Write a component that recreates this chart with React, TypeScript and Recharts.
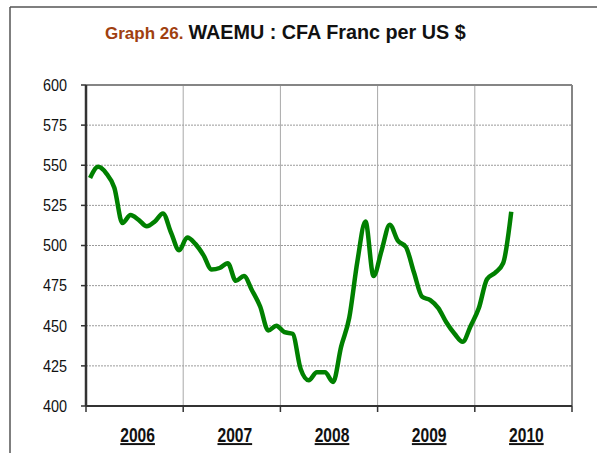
import React from 'react';
import {
  LineChart,
  Line,
  XAxis,
  YAxis,
  CartesianGrid,
  ReferenceLine,
} from 'recharts';

// monthly averages, Jan 2006 .. May 2010
const years = ['2006', '2007', '2008', '2009', '2010'];
const cfaPerUsd = [
  542, 549, 545, 536, 514, 519, 516, 512, 515, 520, 508, 497,
  505, 501, 494, 485, 486, 489, 478, 481, 472, 462, 447, 450,
  446, 445, 423, 416, 421, 421, 415, 437, 455, 490, 515, 481,
  497, 513, 503, 499, 483, 468, 466, 461, 452, 445, 440, 450,
  461, 479, 483, 489, 521,
];
const yTicks = [400, 425, 450, 475, 500, 525, 550, 575, 600];
const yearBounds = [0, 12, 24, 36, 48, 60];

const W = 597;
const H = 453;
const MARGIN = { top: 85, right: 25, bottom: 7, left: 0 };
const Y_AXIS_W = 86;
const PLOT_W = W - MARGIN.left - MARGIN.right - Y_AXIS_W;
const FONT = '"Liberation Sans", Arial, sans-serif';

const data = cfaPerUsd.map((rate, i) => ({ t: i + 0.5, rate }));

const YearTick = ({ x, y, index }: any) => {
  if (index >= years.length) return <g />;
  const cx = x + PLOT_W / years.length / 2 + 3;
  return (
    <g transform={`translate(${cx},${y + 28}) scale(0.8,1)`}>
      <text
        x={0}
        y={0}
        textAnchor="middle"
        fontFamily={FONT}
        fontSize={19.5}
        fontWeight="bold"
        fill="#111"
        textDecoration="underline"
      >
        {years[index]}
      </text>
    </g>
  );
};

const ValueTick = ({ x, y, payload }: any) => (
  <g transform={`translate(${x},${y}) scale(0.9,1)`}>
    <text x={0} y={0} dy="0.36em" textAnchor="end" fontFamily={FONT} fontSize={16} fill="#111">
      {payload.value}
    </text>
  </g>
);

const App: React.FC = () => {
  return (
    <div style={{ position: 'absolute', left: 0, top: 0, width: W, height: H, background: '#fff' }}>
      <LineChart width={W} height={H} data={data} margin={MARGIN}>
        <CartesianGrid vertical={false} stroke="#9a9a9a" strokeDasharray="2 1" />
        <CartesianGrid horizontal={false} stroke="#a8a8a8" />
        <ReferenceLine y={600} stroke="#858585" strokeWidth={2} />
        <ReferenceLine x={60} stroke="#858585" strokeWidth={2} />
        <XAxis
          dataKey="t"
          type="number"
          domain={[0, 60]}
          ticks={yearBounds}
          interval={0}
          height={40}
          tickSize={6}
          tickLine={{ stroke: '#333', strokeWidth: 1.5 }}
          axisLine={{ stroke: '#333', strokeWidth: 2 }}
          tick={<YearTick />}
        />
        <YAxis
          type="number"
          domain={[400, 600]}
          ticks={yTicks}
          interval={0}
          width={Y_AXIS_W}
          tickSize={5}
          tickMargin={14}
          tickLine={{ stroke: '#333', strokeWidth: 1.5 }}
          axisLine={{ stroke: '#333', strokeWidth: 2.5 }}
          tick={<ValueTick />}
        />
        <Line
          type="monotone"
          dataKey="rate"
          stroke="#008000"
          strokeWidth={4.5}
          dot={false}
          isAnimationActive={false}
        />
      </LineChart>
      <svg
        width={W}
        height={H}
        style={{ position: 'absolute', left: 0, top: 0, pointerEvents: 'none' }}
      >
        <line x1={10} y1={7} x2={W} y2={7} stroke="#555" strokeWidth={1.5} />
        <line x1={10} y1={7} x2={10} y2={H} stroke="#555" strokeWidth={1.5} />
        <text x={105} y={39} fontFamily={FONT} fontWeight="bold">
          <tspan fill="#a0400f" fontSize={17}>Graph 26.</tspan>
          <tspan fill="#111" fontSize={19.8} dx={5}>WAEMU : CFA Franc per US $</tspan>
        </text>
      </svg>
    </div>
  );
};

export default App;
